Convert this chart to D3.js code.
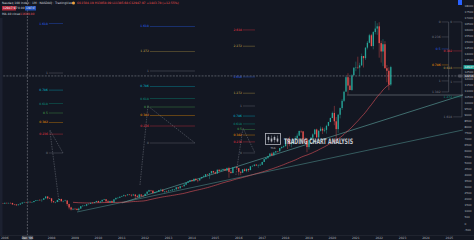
<!DOCTYPE html>
<html>
<head>
<meta charset="utf-8">
<script src="https://cdn.jsdelivr.net/npm/d3@7/dist/d3.min.js"></script>
<style>
body { margin: 0; background: #131722; }
svg { display: block; font-family: "DejaVu Sans", sans-serif; }
</style>
</head>
<body>
<svg id="chart" width="474" height="240"></svg>
<script>
// monthly candles, Nasdaq 100, from Sep 2005 to Jul 2022
var firstMonth = "2005-09";
var firstOpen = 1603;
var closes = [
	1601, 1579, 1687, 1645,
	1710, 1675, 1703, 1700, 1580, 1575, 1518, 1575, 1654, 1737, 1768, 1757,
	1792, 1757, 1772, 1863, 1922, 1934, 1933, 1966, 2091, 2239, 2090, 2085,
	1842, 1759, 1782, 1946, 2031, 1838, 1866, 1904, 1613, 1331, 1161, 1212,
	1198, 1115, 1238, 1432, 1477, 1477, 1597, 1632, 1708, 1706, 1776, 1860,
	1746, 1821, 1956, 2005, 1841, 1752, 1866, 1747, 2001, 2126, 2128, 2218,
	2266, 2340, 2338, 2408, 2386, 2325, 2400, 2269, 2203, 2402, 2302, 2278,
	2459, 2639, 2755, 2720, 2528, 2616, 2629, 2772, 2800, 2660, 2677, 2661,
	2731, 2739, 2819, 2827, 2992, 2910, 3091, 3074, 3218, 3378, 3487, 3592,
	3523, 3699, 3596, 3574, 3736, 3849, 3895, 4083, 4050, 4158, 4340, 4236,
	4151, 4452, 4334, 4415, 4509, 4397, 4589, 4275, 4181, 4648, 4664, 4593,
	4280, 4202, 4483, 4341, 4523, 4418, 4731, 4771, 4875, 4801, 4803, 4864,
	5094, 5330, 5436, 5584, 5789, 5647, 5880, 5988, 5979, 6248, 6337, 6396,
	6950, 6856, 6581, 6605, 6967, 7040, 7272, 7660, 7627, 6967, 6949, 6330,
	6907, 7104, 7378, 7781, 7128, 7672, 7848, 7692, 7750, 8084, 8403, 8733,
	9151, 8462, 7813, 9001, 9555, 10157, 10906, 12111, 11418, 11052, 12268, 12888,
	12925, 12909, 13091, 13861, 13687, 14554, 14959, 15582, 14690, 15850, 16135, 16320,
	14930, 14239, 14838, 12855, 12643, 11504, 12947
];
var highs = [
	1625, 1621, 1695, 1712,
	1730, 1721, 1727, 1739, 1718, 1593, 1598, 1590, 1670, 1750, 1801, 1789,
	1827, 1832, 1800, 1870, 1937, 1958, 2030, 1988, 2094, 2239, 2238, 2155,
	2075, 1870, 1801, 1958, 2051, 2057, 1908, 1968, 1916, 1643, 1390, 1271,
	1295, 1285, 1317, 1452, 1516, 1532, 1612, 1660, 1747, 1777, 1786, 1887,
	1894, 1828, 1969, 2040, 2021, 1935, 1876, 1907, 2008, 2126, 2187, 2229,
	2299, 2400, 2342, 2424, 2441, 2380, 2453, 2401, 2367, 2458, 2408, 2339,
	2468, 2644, 2795, 2784, 2738, 2623, 2661, 2780, 2878, 2824, 2688, 2719,
	2775, 2778, 2832, 2859, 3022, 3025, 3096, 3135, 3235, 3388, 3494, 3595,
	3626, 3716, 3738, 3617, 3737, 3860, 3993, 4090, 4110, 4171, 4351, 4363,
	4299, 4462, 4484, 4543, 4548, 4550, 4635, 4693, 4413, 4654, 4719, 4717,
	4583, 4323, 4500, 4567, 4546, 4525, 4751, 4818, 4893, 4913, 4900, 4965,
	5118, 5340, 5449, 5605, 5818, 5896, 5944, 5996, 6010, 6259, 6396, 6464,
	7022, 6966, 7186, 6786, 7001, 7243, 7460, 7690, 7700, 7640, 7130, 7086,
	6952, 7159, 7466, 7828, 7848, 7731, 8027, 7975, 7931, 8175, 8415, 8772,
	9266, 9736, 8809, 9072, 9607, 10315, 10990, 12175, 12439, 12076, 12361, 12953,
	13401, 13807, 13308, 14064, 13876, 14589, 15115, 15701, 15700, 15920, 16765, 16573,
	16660, 15139, 15265, 15093, 13122, 12940, 13058
];
var lows = [
	1560, 1523, 1576, 1637,
	1640, 1654, 1656, 1688, 1555, 1511, 1446, 1497, 1568, 1645, 1728, 1735,
	1745, 1740, 1712, 1768, 1852, 1892, 1923, 1795, 1944, 2070, 1996, 2030,
	1695, 1739, 1677, 1757, 1930, 1835, 1752, 1838, 1463, 1175, 1080, 1109,
	1162, 1106, 1043, 1226, 1408, 1461, 1431, 1581, 1629, 1689, 1681, 1767,
	1739, 1697, 1814, 1940, 1709, 1749, 1725, 1740, 1763, 1990, 2075, 2127,
	2203, 2270, 2201, 2326, 2338, 2229, 2318, 2034, 2149, 2100, 2175, 2211,
	2293, 2453, 2626, 2636, 2478, 2462, 2534, 2616, 2737, 2636, 2494, 2590,
	2652, 2681, 2723, 2721, 2811, 2831, 2920, 3072, 3094, 3162, 3353, 3449,
	3441, 3433, 3515, 3413, 3529, 3720, 3838, 3835, 3985, 3700, 4132, 4154,
	4087, 4096, 4311, 4327, 4391, 4375, 4325, 3787, 4121, 4153, 4585, 4513,
	3982, 3997, 4199, 4325, 4246, 4269, 4417, 4708, 4725, 4776, 4614, 4791,
	4850, 5084, 5290, 5339, 5563, 5573, 5608, 5771, 5883, 5961, 6186, 6262,
	6403, 6164, 6392, 6306, 6551, 6922, 6971, 7220, 7494, 6750, 6617, 5896,
	6126, 6877, 6979, 7412, 7105, 7047, 7611, 7405, 7549, 7441, 8045, 8378,
	8708, 8135, 6771, 7501, 8699, 9392, 10058, 10956, 10678, 11040, 10977, 12267,
	12606, 12784, 12209, 13038, 12913, 13542, 14406, 14917, 14646, 14415, 15653, 15618,
	13725, 13322, 13020, 12822, 11690, 11037, 11385
];
var maLength = 40;

var yearTicks = [2006, 2007, 2008, 2009, 2010, 2011, 2012, 2013, 2014, 2015, 2016,
	2017, 2018, 2019, 2020, 2021, 2022, 2023, 2024, 2025];
var priceTicks = [-500, 0, 500, 1000, 1500, 2000, 2500, 3000, 3500, 4000, 4500, 5000,
	5500, 6000, 6500, 7000, 7500, 8000, 8500, 9000, 9500, 10000, 10500, 11000, 11500,
	12000, 12500, 13000, 13500, 14000, 14500, 15000, 15500, 16000, 16500, 17000, 17500, 18000];

// drawings on the chart
var fibColors = {
	"0": "#787b86", "0.236": "#f23645", "0.382": "#ff9800", "0.5": "#4caf50",
	"0.618": "#089981", "0.786": "#00bcd4", "1": "#787b86", "1.272": "#c9a74a",
	"1.618": "#2962ff", "2.272": "#c9a74a", "2.618": "#f23645"
};
var fibTools = [
	{ from: "2007-11-20", to: "2008-06-28", p0: 5837, p1: 12458,
	  levels: ["0", "0.236", "0.382", "0.5", "0.618", "0.786", "1", "1.618"],
	  legs: [["2008-04-26", 1781], ["2007-12-05", 7740], ["2008-06-28", 5837]] },
	{ from: "2012-03-15", to: "2014-02-16", p0: 6664, p1: 12624,
	  levels: ["0", "0.236", "0.382", "0.5", "0.618", "0.786", "1", "1.272", "1.618"],
	  legs: [["2011-10-12", 3188], ["2012-02-13", 9727], ["2014-02-16", 6664]] },
	{ from: "2016-03-07", to: "2016-09-10", p0: 5837, p1: 9727,
	  levels: ["0", "0.236", "0.382", "0.5", "0.618", "0.786", "1", "1.272", "1.618", "2.272", "2.618"],
	  legs: [["2015-11-17", 4016], ["2016-03-07", 7906], ["2016-09-10", 5837]] }
];
// two small level sets on the far right
var rightLevels = [
	{ from: "2024-09-01", to: "2024-12-20", prices: [16682, 15442, 14449, 13126, 11803, 10893],
	  colors: ["#787b86", "#787b86", "#2962ff", "#ff9800", "#787b86", "#787b86"],
	  texts: ["0", "0.236", "0.5", "0.786", "1", "1.382"] },
	{ from: "2025-03-01", to: "2025-07-15", prices: [16682, 14284, 12878, 11720, 10480, 8826],
	  colors: ["#787b86", "#f23645", "#c9a74a", "#787b86", "#089981", "#787b86"],
	  texts: ["0", "0.382", "0.618", "1", "1.272", "1.618"] }
];
var trendLines = [
	{ a: ["2009-02-01", 954], b: ["2025-07-30", 7740], color: "#4e8a88" },
	{ a: ["2011-01-01", 1700], b: ["2025-07-30", 10637], color: "#5fa7a2" }
];
var hLine = { from: "2020-08-15", price: 10637 };
var crossDate = "2006-12-20";
var crossPrice = 12216;

var svg = d3.select("#chart");
var W = 474, H = 240, plotR = 463, plotB = 235;

var parseDay = d3.timeParse("%Y-%m-%d");
var parseMonth = d3.timeParse("%Y-%m");

var x = d3.scaleTime()
	.domain([new Date(2009, 0, 1), new Date(2022, 0, 1)])
	.range([75, 75 + 13 * 23.4]);
var y = d3.scaleLinear()
	.domain([-950, 18500])
	.range([plotB, 0]);

// build candles
var candles = [];
var m0 = parseMonth(firstMonth);
closes.forEach(function (c, i) {
	candles.push({
		date: d3.timeMonth.offset(m0, i),
		open: i === 0 ? firstOpen : closes[i - 1],
		high: highs[i],
		low: lows[i],
		close: c
	});
});

svg.append("rect").attr("width", W).attr("height", H).attr("fill", "#131722");

var plot = svg.append("g");
plot.append("clipPath").attr("id", "clip")
	.append("rect").attr("width", plotR).attr("height", plotB);
var body = plot.append("g").attr("clip-path", "url(#clip)");

// left toolbar edge
svg.append("rect").attr("x", 0).attr("y", 18).attr("width", 2.5).attr("height", plotB - 18).attr("fill", "#1c2130");

// trend lines
trendLines.forEach(function (t) {
	body.append("line")
		.attr("x1", x(parseDay(t.a[0]))).attr("y1", y(t.a[1]))
		.attr("x2", x(parseDay(t.b[0]))).attr("y2", y(t.b[1]))
		.attr("stroke", t.color).attr("stroke-width", 0.6);
});

body.append("line")
	.attr("x1", x(parseDay(hLine.from))).attr("x2", plotR)
	.attr("y1", y(hLine.price)).attr("y2", y(hLine.price))
	.attr("stroke", "#8f969e").attr("stroke-width", 0.5);

// moving average
var ma = [];
candles.forEach(function (d, i) {
	if (i >= maLength - 1) {
		ma.push({ date: d.date, v: d3.mean(candles.slice(i - maLength + 1, i + 1), function (e) { return e.close; }) });
	}
});
body.append("path")
	.datum(ma)
	.attr("d", d3.line().curve(d3.curveMonotoneX)
		.x(function (d) { return x(d.date); })
		.y(function (d) { return y(d.v); }))
	.attr("fill", "none").attr("stroke", "#e0535b").attr("stroke-width", 0.6);

// fib tools
fibTools.forEach(function (f) {
	var x0 = x(parseDay(f.from)), x1 = x(parseDay(f.to));
	f.levels.forEach(function (lv) {
		var p = f.p0 + (+lv) * (f.p1 - f.p0);
		body.append("line")
			.attr("x1", x0).attr("x2", x1).attr("y1", y(p)).attr("y2", y(p))
			.attr("stroke", fibColors[lv]).attr("stroke-width", 0.5).attr("opacity", 0.7);
		body.append("text")
			.attr("x", x0 - 1).attr("y", y(p) + 1)
			.attr("text-anchor", "end").attr("font-size", 3)
			.attr("fill", fibColors[lv])
			.text(lv);
	});
	body.append("path")
		.datum(f.legs)
		.attr("d", d3.line()
			.x(function (d) { return x(parseDay(d[0])); })
			.y(function (d) { return y(d[1]); }))
		.attr("fill", "none").attr("stroke", "#8a8f99").attr("stroke-width", 0.4)
		.attr("stroke-dasharray", "1.5,1");
});

rightLevels.forEach(function (r) {
	var x0 = x(parseDay(r.from)), x1 = x(parseDay(r.to));
	r.prices.forEach(function (p, i) {
		body.append("line")
			.attr("x1", x0).attr("x2", x1).attr("y1", y(p)).attr("y2", y(p))
			.attr("stroke", r.colors[i]).attr("stroke-width", 0.5).attr("opacity", 0.7);
		body.append("text")
			.attr("x", x0 - 1).attr("y", y(p) + 1)
			.attr("text-anchor", "end").attr("font-size", 3)
			.attr("fill", r.colors[i])
			.text(r.texts[i]);
	});
	body.append("line")
		.attr("x1", x1).attr("x2", x1).attr("y1", y(r.prices[0])).attr("y2", y(r.prices[r.prices.length - 1]))
		.attr("stroke", "#787b86").attr("stroke-width", 0.4);
});

// candles
var cw = 1.3;
var cg = body.selectAll(".candle")
	.data(candles)
	.enter().append("g")
	.attr("class", "candle");
cg.append("line")
	.attr("x1", function (d) { return x(d.date); })
	.attr("x2", function (d) { return x(d.date); })
	.attr("y1", function (d) { return y(d.high); })
	.attr("y2", function (d) { return y(d.low); })
	.attr("stroke", function (d) { return d.close >= d.open ? "#26a69a" : "#ef5350"; })
	.attr("stroke-width", 0.4);
cg.append("rect")
	.attr("x", function (d) { return x(d.date) - cw / 2; })
	.attr("width", cw)
	.attr("y", function (d) { return y(Math.max(d.open, d.close)); })
	.attr("height", function (d) { return Math.max(0.4, Math.abs(y(d.open) - y(d.close))); })
	.attr("fill", function (d) { return d.close >= d.open ? "#26a69a" : "#ef5350"; });

// crosshair
body.append("line")
	.attr("x1", x(parseDay(crossDate))).attr("x2", x(parseDay(crossDate)))
	.attr("y1", 0).attr("y2", plotB)
	.attr("stroke", "#9598a1").attr("stroke-width", 0.5).attr("stroke-dasharray", "2,1.2");
body.append("line")
	.attr("x1", 0).attr("x2", plotR)
	.attr("y1", y(crossPrice)).attr("y2", y(crossPrice))
	.attr("stroke", "#9598a1").attr("stroke-width", 0.5).attr("stroke-dasharray", "2,1.2");

// watermark
var wm = svg.append("g").attr("opacity", 0.85);
wm.append("rect").attr("x", 265.5).attr("y", 133.5).attr("width", 15).attr("height", 11)
	.attr("fill", "none").attr("stroke", "#d1d4dc").attr("stroke-width", 0.8);
[268, 271, 274, 277].forEach(function (cx, i) {
	wm.append("line").attr("x1", cx + 0.5).attr("x2", cx + 0.5).attr("y1", 135.5).attr("y2", 142.5)
		.attr("stroke", "#d1d4dc").attr("stroke-width", 0.4);
	wm.append("rect").attr("x", cx - 0.3).attr("y", 137 + (i % 2) * 1.5).attr("width", 1.6).attr("height", 3)
		.attr("fill", "#d1d4dc");
});
wm.append("text").attr("x", 273).attr("y", 149).attr("text-anchor", "middle")
	.attr("font-size", 2.6).attr("fill", "#d1d4dc").text("TCA");
wm.append("text").attr("x", 284).attr("y", 143.5)
	.attr("font-family", "'DejaVu Sans Condensed', 'DejaVu Sans', sans-serif")
	.attr("font-weight", "bold").attr("font-size", 7.5)
	.attr("textLength", 69).attr("lengthAdjust", "spacingAndGlyphs")
	.attr("fill", "#e6e8ee").text("TRADING CHART ANALYSIS");

// price axis
var ax = svg.append("g");
ax.selectAll(".pt")
	.data(priceTicks)
	.enter().append("text")
	.attr("x", 464.5).attr("y", function (d) { return y(d) + 1; })
	.attr("font-size", 2.8).attr("fill", "#b2b5be")
	.text(function (d) { return d; });

var last = candles[candles.length - 1];
var axisTags = [
	{ v: last.close, fill: "#26a69a" },
	{ v: crossPrice, fill: "#363a45" }
];
axisTags.forEach(function (t) {
	ax.append("rect").attr("x", 463.5).attr("y", y(t.v) - 2).attr("width", 10.5).attr("height", 4)
		.attr("fill", t.fill);
	ax.append("text").attr("x", 464.5).attr("y", y(t.v) + 1).attr("font-size", 2.8).attr("fill", "#fff")
		.attr("textLength", 9).attr("lengthAdjust", "spacingAndGlyphs")
		.text(Math.round(t.v));
});
ax.append("rect").attr("x", 458).attr("y", y(crossPrice) - 1.5).attr("width", 4).attr("height", 3).attr("rx", 0.8)
	.attr("fill", "#50535e");
ax.append("rect").attr("x", 458).attr("y", 0).attr("width", 4).attr("height", 5).attr("fill", "#2962ff");

// time axis
var cx0 = x(parseDay(crossDate));
svg.append("line").attr("x1", 0).attr("x2", W).attr("y1", plotB + 0.5).attr("y2", plotB + 0.5)
	.attr("stroke", "#2a2e39").attr("stroke-width", 0.6);
svg.selectAll(".yt")
	.data(yearTicks.filter(function (d) { return Math.abs(x(new Date(d, 0, 1)) - cx0) > 9; }))
	.enter().append("text")
	.attr("x", function (d) { return x(new Date(d, 0, 1)); })
	.attr("y", 239)
	.attr("text-anchor", "middle").attr("font-size", 3).attr("fill", "#b2b5be")
	.text(function (d) { return d; });
svg.append("rect").attr("x", cx0 - 5).attr("y", 235.5).attr("width", 10).attr("height", 4.5).attr("fill", "#363a45");
svg.append("text").attr("x", cx0).attr("y", 239).attr("text-anchor", "middle")
	.attr("font-size", 3).attr("fill", "#fff").text("Dec '06");

// legend at top left
var lg = svg.append("g").attr("font-size", 3);
lg.append("text").attr("x", 2).attr("y", 4).attr("fill", "#d1d4dc")
	.text("Nasdaq 100 Index · 1M · NASDAQ · TradingView");
lg.append("circle").attr("cx", 73.5).attr("cy", 3).attr("r", 1.5).attr("fill", "#f0a23b");
lg.append("text").attr("x", 77).attr("y", 4).attr("fill", "#ef5350")
	.text("O11504.19 H13058.09 L11385.68 C12947.97 +1443.78 (+12.55%)");
lg.append("rect").attr("x", 2).attr("y", 6).attr("width", 14).attr("height", 4.5).attr("fill", "#b2283a");
lg.append("text").attr("x", 3).attr("y", 9.3).attr("fill", "#fff").text("12947.97");
lg.append("text").attr("x", 18).attr("y", 9.3).attr("fill", "#d1d4dc").text("0.00");
lg.append("rect").attr("x", 25).attr("y", 6).attr("width", 11).attr("height", 4.5).attr("fill", "#1e4fb8");
lg.append("text").attr("x", 26).attr("y", 9.3).attr("fill", "#fff")
	.attr("textLength", 9).attr("lengthAdjust", "spacingAndGlyphs").text("12947.97");
lg.append("text").attr("x", 2).attr("y", 15).attr("fill", "#d1d4dc").text("MA 40 close");
lg.append("text").attr("x", 20).attr("y", 15).attr("fill", "#e0535b")
	.text(d3.format(".2f")(ma[ma.length - 1].v));
</script>
</body>
</html>
